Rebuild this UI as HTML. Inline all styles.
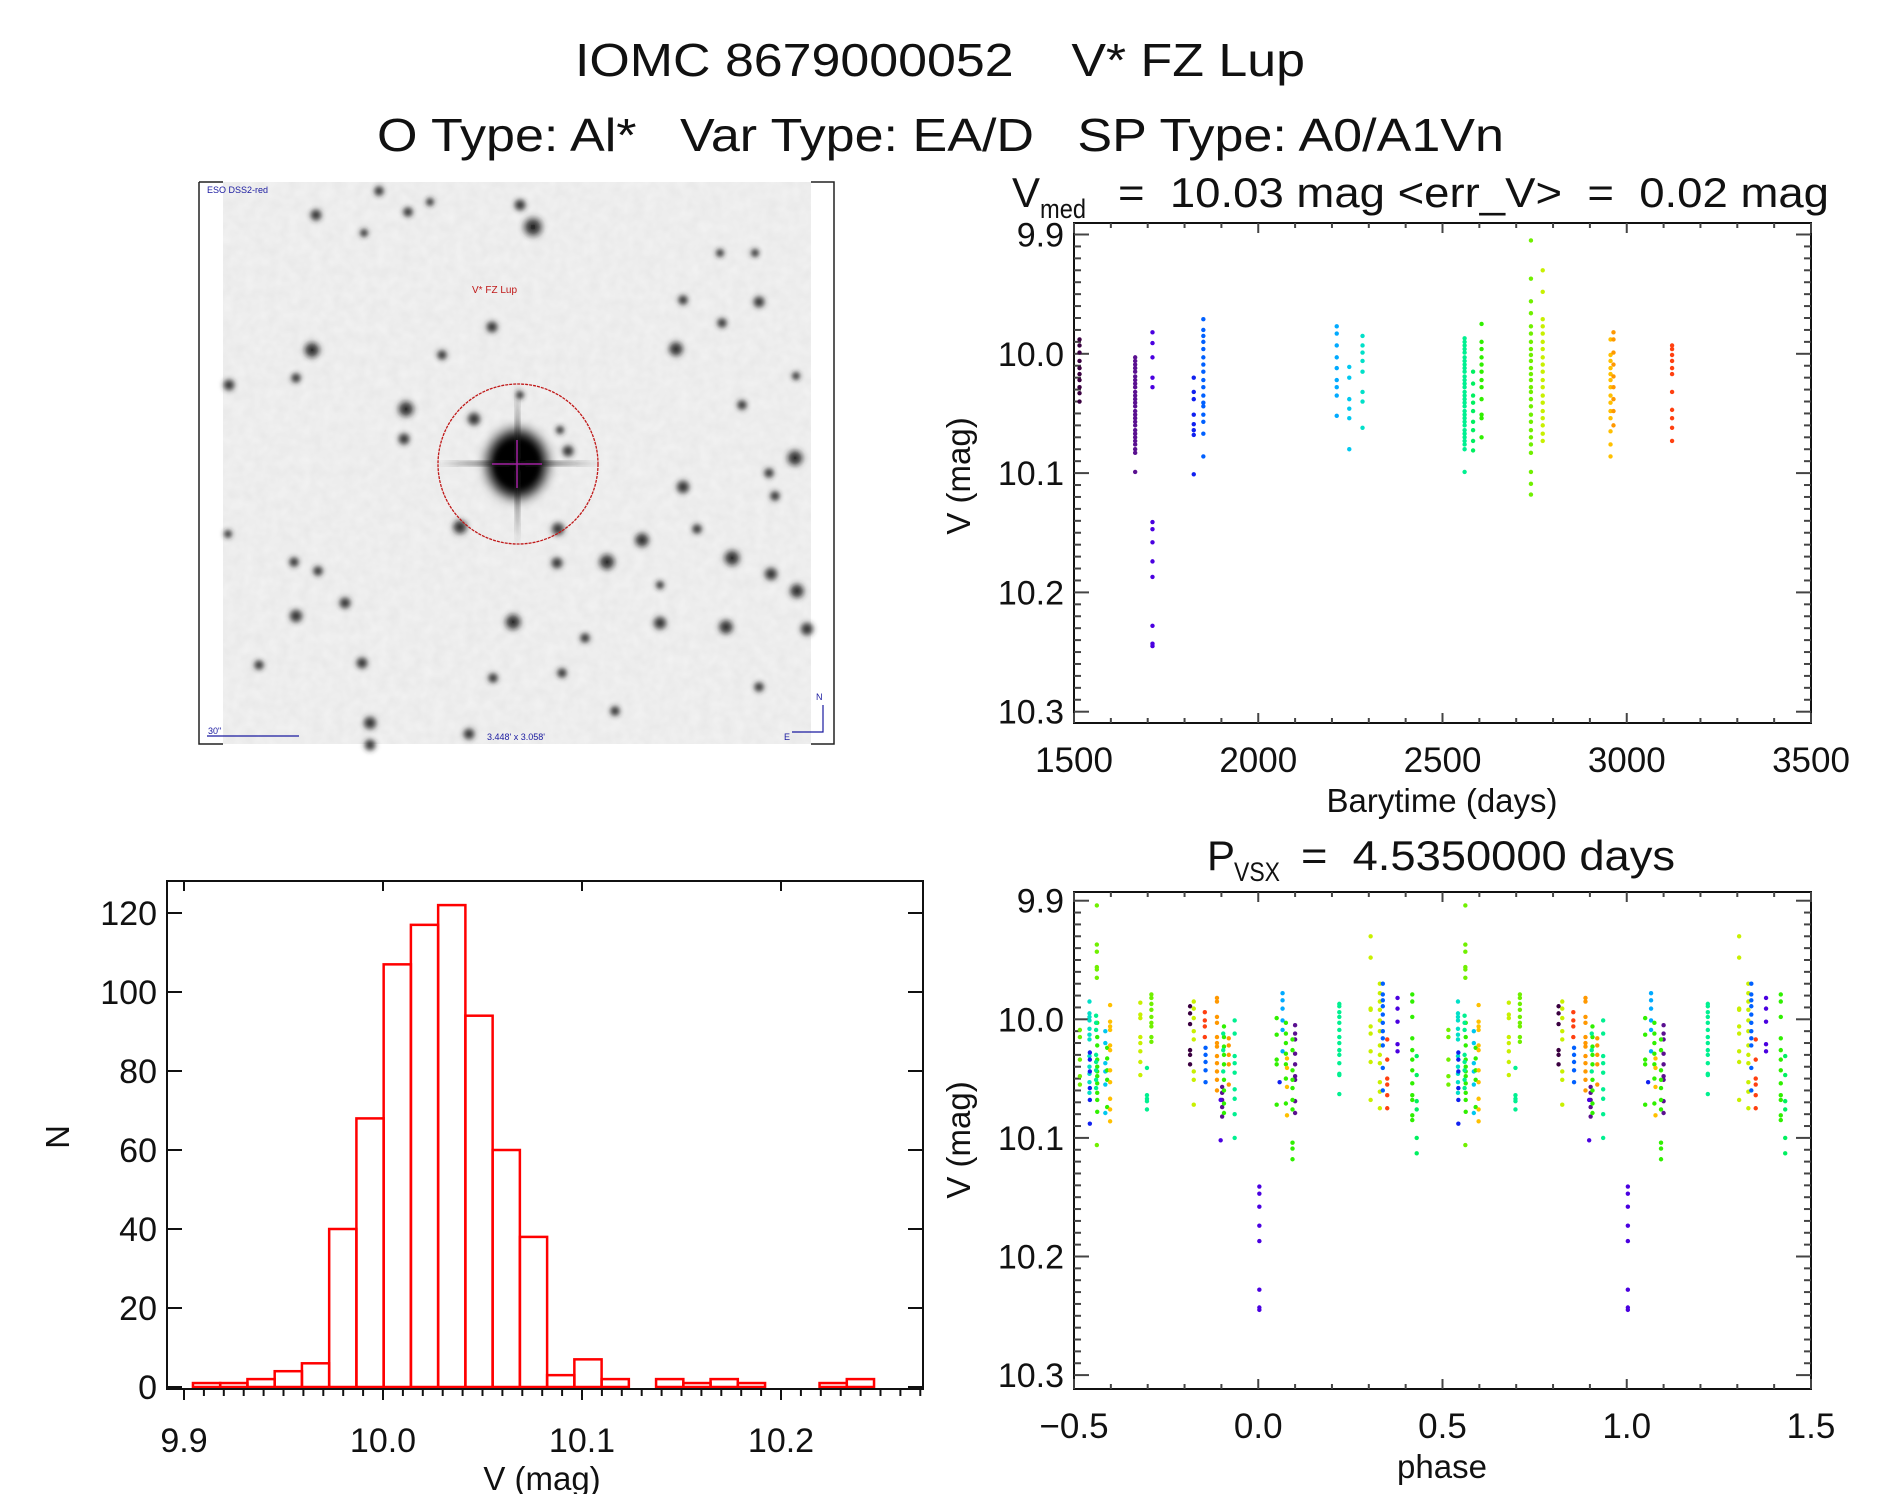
<!DOCTYPE html>
<html><head><meta charset="utf-8"><title>IOMC 8679000052</title>
<style>
html,body{margin:0;padding:0;background:#fff;}
svg{display:block;font-family:"Liberation Sans",sans-serif;}
text{fill:#111;white-space:pre;}
</style></head>
<body>
<svg id="fig" width="1889" height="1494" viewBox="0 0 1889 1494" xmlns="http://www.w3.org/2000/svg" xml:space="preserve">
<defs>
<radialGradient id="starG"><stop offset="0" stop-color="#000" stop-opacity="0.95"/><stop offset="0.45" stop-color="#111" stop-opacity="0.7"/><stop offset="1" stop-color="#444" stop-opacity="0"/></radialGradient>
<linearGradient id="spikeH" x1="0" x2="1" y1="0" y2="0"><stop offset="0" stop-color="#333" stop-opacity="0"/><stop offset="0.5" stop-color="#111" stop-opacity="0.9"/><stop offset="1" stop-color="#333" stop-opacity="0"/></linearGradient>
<linearGradient id="spikeV" x1="0" x2="0" y1="0" y2="1"><stop offset="0" stop-color="#333" stop-opacity="0"/><stop offset="0.5" stop-color="#111" stop-opacity="0.9"/><stop offset="1" stop-color="#333" stop-opacity="0"/></linearGradient>
<filter id="grain" x="0" y="0" width="1" height="1"><feTurbulence type="fractalNoise" baseFrequency="0.09" numOctaves="2" seed="4"/><feColorMatrix type="matrix" values="0 0 0 0 0.6  0 0 0 0 0.6  0 0 0 0 0.6  0 0 0 0.3 0"/></filter>
<filter id="soft" x="-20%" y="-20%" width="140%" height="140%"><feGaussianBlur stdDeviation="2"/></filter>
<filter id="soft2" x="-50%" y="-50%" width="200%" height="200%"><feGaussianBlur stdDeviation="6"/></filter>
</defs>

<text x="575" y="76" font-size="46" textLength="730" lengthAdjust="spacingAndGlyphs">IOMC 8679000052    V* FZ Lup</text>
<text x="377" y="151" font-size="46" textLength="1127" lengthAdjust="spacingAndGlyphs">O Type: Al*   Var Type: EA/D   SP Type: A0/A1Vn</text>

<g>
  <rect x="223" y="182" width="588" height="562" fill="#f3f3f3"/>
  <rect x="223" y="182" width="588" height="562" filter="url(#grain)"/>
  <g id="stars" filter="url(#soft)"></g>
  <g filter="url(#soft2)">
    <ellipse cx="517" cy="464" rx="30" ry="34" fill="#000"/>
  </g>
  <rect x="435" y="461" width="165" height="5" fill="url(#spikeH)" filter="url(#soft)"/>
  <rect x="515" y="385" width="5" height="160" fill="url(#spikeV)" filter="url(#soft)"/>
  <circle cx="518" cy="464" r="80" fill="none" stroke="#c01818" stroke-width="1.3" stroke-dasharray="3 1"/>
  <line x1="492" y1="464" x2="542" y2="464" stroke="#a020a0" stroke-width="1.5"/>
  <line x1="517" y1="440" x2="517" y2="488" stroke="#a020a0" stroke-width="1.5"/>
  <text x="207" y="193" font-size="9" style="fill:#1a1aa0">ESO DSS2-red</text>
  <text x="472" y="293" font-size="10" style="fill:#c01818">V* FZ Lup</text>
  <text x="208" y="734" font-size="9" style="fill:#1a1aa0">30"</text>
  <line x1="207" y1="736" x2="299" y2="736" stroke="#1a1aa0" stroke-width="1.2"/>
  <text x="487" y="740" font-size="9" style="fill:#1a1aa0">3.448' x 3.058'</text>
  <path d="M823 705 L823 732 L792 732" fill="none" stroke="#1a1aa0" stroke-width="1.2"/>
  <text x="816" y="700" font-size="9" style="fill:#1a1aa0">N</text>
  <text x="784" y="740" font-size="9" style="fill:#1a1aa0">E</text>
  <path d="M199 182 L199 744 L223 744 M199 182 L223 182" fill="none" stroke="#222" stroke-width="1.5"/>
  <path d="M811 182 L834 182 L834 744 L811 744" fill="none" stroke="#222" stroke-width="1.5"/>
</g>

<g>
  <text x="1012" y="207" font-size="42">V</text>
  <text x="1040" y="218" font-size="27" textLength="46" lengthAdjust="spacingAndGlyphs">med</text>
  <text x="1118" y="207" font-size="42" textLength="711" lengthAdjust="spacingAndGlyphs">=  10.03 mag &lt;err_V&gt;  =  0.02 mag</text>
</g>
<g>
  <text x="1207" y="870" font-size="42">P</text>
  <text x="1234" y="881" font-size="27" textLength="46" lengthAdjust="spacingAndGlyphs">VSX</text>
  <text x="1301" y="870" font-size="42" textLength="374" lengthAdjust="spacingAndGlyphs">=  4.5350000 days</text>
</g>

<g id="lc"></g>
<g id="ph"></g>
<g id="hist"></g>

<script>
const seasonColors = ["#3a0040","#5a1090","#4a00e0","#1020f0","#0060ff","#00aaff","#00c8f0","#00e0c8","#00f090","#00f060","#30f000","#70f000","#c8f000","#ffc000","#ff9800","#ff4010"];
const lcDays = [1515,1666,1713,1825,1851,2213,2247,2283,2560,2583,2606,2740,2772,2956,2964,3123];
const lcMags = [
 [9.988,9.993,9.999,10.006,10.012,10.017,10.022,10.028,10.033,10.040],
 [10.003,10.006,10.009,10.012,10.015,10.019,10.022,10.025,10.028,10.032,10.035,10.038,10.041,10.044,10.048,10.051,10.054,10.057,10.060,10.064,10.067,10.070,10.073,10.076,10.080,10.083,10.099],
 [9.982,9.991,10.003,10.020,10.028,10.141,10.147,10.158,10.174,10.187,10.228,10.243,10.245],
 [10.020,10.032,10.038,10.051,10.059,10.064,10.068,10.101],
 [9.971,9.980,9.985,9.990,9.996,10.003,10.009,10.015,10.022,10.028,10.035,10.041,10.044,10.051,10.057,10.067,10.086],
 [9.977,9.983,9.993,10.003,10.012,10.022,10.028,10.035,10.052],
 [10.011,10.020,10.038,10.046,10.054,10.080],
 [9.985,9.993,9.999,10.006,10.015,10.032,10.040,10.062],
 [9.987,9.990,9.993,9.996,9.999,10.003,10.006,10.009,10.012,10.015,10.019,10.022,10.025,10.028,10.032,10.035,10.038,10.041,10.044,10.048,10.051,10.054,10.057,10.060,10.064,10.067,10.070,10.073,10.076,10.080,10.099],
 [10.015,10.025,10.035,10.041,10.048,10.057,10.064,10.073,10.081],
 [9.975,9.990,9.996,10.003,10.009,10.015,10.022,10.028,10.038,10.051,10.054,10.070],
 [9.905,9.937,9.956,9.966,9.977,9.983,9.990,9.996,10.001,10.006,10.012,10.017,10.022,10.028,10.032,10.038,10.044,10.051,10.057,10.064,10.070,10.076,10.083,10.099,10.109,10.118],
 [9.930,9.948,9.971,9.977,9.983,9.990,9.996,10.003,10.009,10.015,10.022,10.028,10.035,10.041,10.048,10.054,10.060,10.067,10.073],
 [9.988,10.001,10.006,10.012,10.017,10.022,10.028,10.035,10.041,10.048,10.054,10.065,10.076,10.086],
 [9.982,9.988,9.999,10.009,10.019,10.028,10.038,10.048,10.060],
 [9.993,9.996,10.001,10.006,10.012,10.017,10.032,10.047,10.054,10.062,10.073]
];
const phPhases = [-0.484,-0.458,-0.457,-0.438,-0.437,-0.44,-0.415,-0.41,-0.402,-0.32,-0.29,-0.302,-0.185,-0.175,-0.145,-0.143,-0.112,-0.098,-0.102,-0.093,-0.095,-0.08,-0.064,0.003,0.05,0.066,0.058,0.075,0.078,0.1,0.093,0.22,0.305,0.33,0.338,0.35,0.378,0.418,0.43];
const phColorIdx = [11,7,3,11,10,8,6,10,13,12,11,8,0,12,15,4,14,1,2,10,8,14,8,2,10,5,3,10,13,1,10,8,12,12,4,15,2,10,9];
const phMags = [
 [10.009,10.015,10.034,10.048,10.055],
 [9.985,9.995,9.998,10.001,10.008,10.013,10.017,10.031,10.040,10.046,10.053,10.062],
 [10.028,10.034,10.044,10.058,10.068,10.088],
 [9.904,9.937,9.943,9.956,9.958,9.965,10.106],
 [10.003,10.015,10.022,10.034,10.040,10.044,10.048,10.054,10.062,10.068,10.078],
 [9.997,10.003,10.009,10.030,10.036,10.043,10.051,10.058],
 [10.010,10.020,10.037,10.044,10.055,10.079],
 [10.024,10.033,10.043,10.051,10.074],
 [9.988,10.002,10.006,10.009,10.022,10.026,10.043,10.053,10.067,10.076,10.086],
 [9.986,9.996,9.999,10.015,10.020,10.027,10.036,10.047],
 [9.979,9.982,9.987,9.992,9.998,10.003,10.006,10.015,10.019],
 [10.041,10.064,10.067,10.069,10.076],
 [9.989,9.995,10.004,10.026,10.030,10.038],
 [9.985,9.991,9.999,10.010,10.017,10.044,10.051,10.072],
 [9.994,10.001,10.006,10.015],
 [10.024,10.030,10.036,10.043,10.053],
 [9.982,9.985,9.998,10.003,10.015,10.020,10.023,10.031,10.037,10.044,10.051,10.060],
 [10.057,10.062,10.068,10.074,10.082],
 [10.068,10.102],
 [10.006,10.015,10.023,10.030,10.038,10.051,10.060,10.071,10.079],
 [10.012,10.026,10.044],
 [10.016,10.022,10.030,10.038,10.055],
 [10.001,10.012,10.031,10.037,10.045,10.059,10.067,10.080,10.100],
 [10.141,10.147,10.158,10.174,10.187,10.228,10.243,10.245],
 [9.999,10.013,10.034,10.038,10.072],
 [9.978,9.984,9.991,10.001,10.009,10.027],
 [10.053],
 [10.003,10.012,10.020,10.029,10.038,10.050,10.071],
 [10.033,10.041,10.057,10.081],
 [10.005,10.012,10.017,10.029,10.038,10.048,10.051,10.069,10.079],
 [10.017,10.026,10.043,10.051,10.058,10.068,10.076,10.104,10.109,10.118],
 [9.987,9.989,9.994,9.998,10.003,10.009,10.015,10.020,10.026,10.030,10.037,10.046,10.047,10.063],
 [9.930,9.948,9.991,9.992,10.006,10.012,10.027,10.036,10.068],
 [9.970,9.978,9.985,9.992,10.001,10.010,10.022,10.030,10.037,10.053,10.061,10.075],
 [9.970,9.979,9.984,9.989,9.996,10.003,10.010,10.016,10.022,10.041,10.060],
 [10.017,10.034,10.050,10.055,10.064,10.075],
 [9.982,9.991,10.002,10.021,10.027],
 [9.979,9.985,9.998,10.016,10.026,10.034,10.043,10.054,10.064,10.068,10.081,10.085],
 [10.031,10.047,10.069,10.076,10.100,10.113]
];
const histStart = 9.9045;
const histBinWidth = 0.01369;
const histCounts = [1,1,2,4,6,40,68,107,117,122,94,60,38,3,7,2,0,2,1,2,1,0,0,1,2];
const lcXTicks = ["1500","2000","2500","3000","3500"];
const magTicks = ["9.9","10.0","10.1","10.2","10.3"];
const phXTicks = ["\u22120.5","0.0","0.5","1.0","1.5"];
const histXTicks = ["9.9","10.0","10.1","10.2"];
const histYTicks = ["0","20","40","60","80","100","120"];

const NS="http://www.w3.org/2000/svg";
function mk(tag, parent, attrs){const e=document.createElementNS(NS,tag);for(const k in attrs)e.setAttribute(k,attrs[k]);parent.appendChild(e);return e;}
function txt(parent, x, y, s, size, anchor, extra){const t=mk("text",parent,Object.assign({x:x,y:y,"font-size":size,"text-anchor":anchor||"start"},extra||{}));t.textContent=s;return t;}

const fieldStars=[[533,227,13],[312,350,11],[406,409,11],[795,458,11],[732,558,11],[607,562,11],[642,540,10],[513,622,11],[726,627,10],[797,591,10],[771,574,9],[807,629,9],[676,349,10],[660,623,9],[683,487,9],[474,419,9],[460,527,10],[558,529,9],[404,439,8],[568,451,8],[296,616,9],[345,603,8],[362,663,8],[370,723,9],[557,563,8],[520,205,8],[492,327,8],[442,355,7],[316,215,8],[759,302,8],[683,300,7],[722,323,7],[229,385,8],[294,562,7],[318,571,7],[259,665,7],[697,529,7],[775,496,7],[769,473,7],[742,405,7],[585,638,7],[562,673,7],[493,678,7],[759,687,7],[379,191,7],[408,212,7],[430,202,6],[469,734,8],[615,711,7],[796,376,6],[755,253,6],[720,253,6],[364,233,6],[296,378,7],[228,534,6],[660,585,6],[370,745,8],[520,395,6],[560,430,6]];
const sg=document.getElementById("stars");
fieldStars.forEach(s=>{const c=mk("circle",sg,{cx:s[0],cy:s[1],r:s[2],fill:"url(#starG)"});

});
const core=mk("circle",sg,{cx:517,cy:464,r:22,fill:"#111"});



function frame(g,x0,y0,x1,y1){const r=mk("rect",g,{x:x0,y:y0,width:x1-x0,height:y1-y0,fill:"none",stroke:"#111","stroke-width":2});

}
function magAxis(g,y,x0,x1){
  for(let i=0;i<=40;i++){const m=9.9+i*0.01;const yy=y(m);const major=(i%10===0);const L=major?15:7;
    mk("line",g,{x1:x0,y1:yy,x2:x0+L,y2:yy,stroke:"#444","stroke-width":2});
    mk("line",g,{x1:x1,y1:yy,x2:x1-L,y2:yy,stroke:"#444","stroke-width":2});}
  magTicks.forEach(s=>{const t=txt(g,x0-10,y(parseFloat(s))+12,s,34,"end");
    
    });
}

(function(){
 const g=document.getElementById("lc");
 const X0=1074,X1=1811,Y0=223,Y1=723;
 const x=d=>X0+(d-1500)*(X1-X0)/2000;
 const y=m=>234.5+(m-9.9)*1193;
 frame(g,X0,Y0,X1,Y1);
 for(let d=1500;d<=3500;d+=100){const xx=x(d);const L=(d%500===0)?10:5;
   mk("line",g,{x1:xx,y1:Y1,x2:xx,y2:Y1-L,stroke:"#444","stroke-width":2});
   mk("line",g,{x1:xx,y1:Y0,x2:xx,y2:Y0+L,stroke:"#444","stroke-width":2});}
 magAxis(g,y,X0,X1);
 lcXTicks.forEach(s=>{const t=txt(g,x(parseFloat(s)),772,s,35,"middle");
   
   });
 const xt=txt(g,1442,812,"Barytime (days)",33,"middle");
 
 
 const yt=txt(g,0,0,"V (mag)",33,"middle",{transform:"translate(970,476) rotate(-90)"});
 
 
 lcDays.forEach((d,i)=>{lcMags[i].forEach(m=>{
   const c=mk("circle",g,{cx:x(d),cy:y(m),r:2.2,fill:seasonColors[i]});
   
   });});
})();

(function(){
 const g=document.getElementById("ph");
 const X0=1074,X1=1811,Y0=892,Y1=1389;
 const x=p=>X0+(p+0.5)*(X1-X0)/2;
 const y=m=>900.7+(m-9.9)*1186;
 frame(g,X0,Y0,X1,Y1);
 for(let i=0;i<=20;i++){const p=-0.5+i*0.1;const xx=x(p);const L=(i%5===0)?10:5;
   mk("line",g,{x1:xx,y1:Y1,x2:xx,y2:Y1-L,stroke:"#444","stroke-width":2});
   mk("line",g,{x1:xx,y1:Y0,x2:xx,y2:Y0+L,stroke:"#444","stroke-width":2});}
 magAxis(g,y,X0,X1);
 phXTicks.forEach(s=>{const t=txt(g,x(parseFloat(s.replace("\u2212","-"))),1438,s,35,"middle");
   
   });
 const xt=txt(g,1442,1478,"phase",33,"middle");
 
 
 const yt=txt(g,0,0,"V (mag)",33,"middle",{transform:"translate(970,1140) rotate(-90)"});
 
 
 phPhases.forEach((p,i)=>{phMags[i].forEach(m=>{[p,p+1].forEach(pp=>{
   const c=mk("circle",g,{cx:x(pp),cy:y(m),r:2.2,fill:seasonColors[phColorIdx[i]]});
   
   });});});
})();

(function(){
 const g=document.getElementById("hist");
 const X0=167,X1=923,Y0=881,Y1=1389;
 const x=v=>184+(v-9.9)*1990;
 const y=n=>1387-n*3.95;
 histCounts.forEach((n,i)=>{const a=x(histStart+i*histBinWidth),b=x(histStart+(i+1)*histBinWidth);
   const r=mk("rect",g,{x:a,y:y(n),width:b-a,height:Math.max(0,y(0)-y(n)),fill:"none",stroke:"#ff0000","stroke-width":2.5});
   
   });
 frame(g,X0,Y0,X1,Y1);
 for(let i=0;i<=37;i++){const v=9.9+i*0.01;const xx=x(v);if(xx>X1)break;const major=(i%10===0);
   mk("line",g,{x1:xx,y1:Y1,x2:xx,y2:Y1+(major?11:7),stroke:"#111","stroke-width":2});
   if(major) mk("line",g,{x1:xx,y1:Y0,x2:xx,y2:Y0+10,stroke:"#111","stroke-width":2});}
 histYTicks.forEach(s=>{const yy=y(parseFloat(s));
   mk("line",g,{x1:X0,y1:yy,x2:X0+15,y2:yy,stroke:"#111","stroke-width":2});
   mk("line",g,{x1:X1,y1:yy,x2:X1-15,y2:yy,stroke:"#111","stroke-width":2});
   const t=txt(g,157,yy+12,s,34,"end");
   
   });
 histXTicks.forEach(s=>{const t=txt(g,x(parseFloat(s)),1452,s,34,"middle");
   
   });
 const xt=txt(g,542,1490,"V (mag)",33,"middle");
 
 
 const yt=txt(g,0,0,"N",33,"middle",{transform:"translate(69,1137) rotate(-90)"});
 
 
})();
</script>
</svg>
</body></html>
